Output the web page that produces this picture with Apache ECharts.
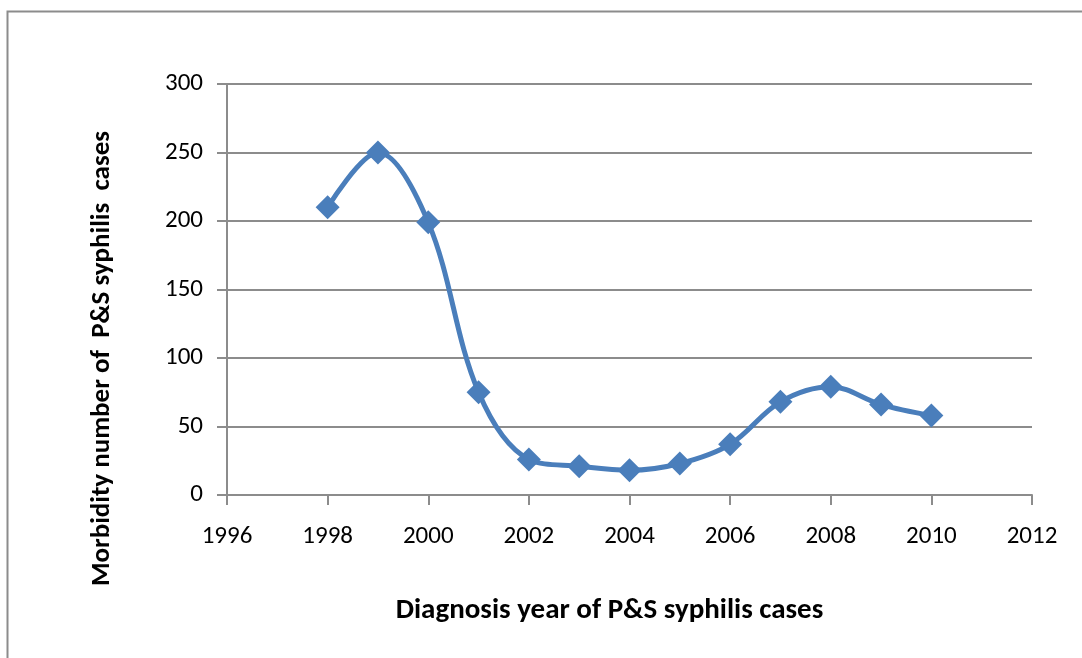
<!DOCTYPE html>
<html>
<head>
<meta charset="utf-8">
<script src="https://cdn.jsdelivr.net/npm/echarts@6/dist/echarts.min.js"></script>
<style>
  html, body { margin: 0; padding: 0; background: #fff; }
  #chart { width: 1082px; height: 658px; }
</style>
</head>
<body>
<div id="chart"></div>
<script>
// data
var years = [1998, 1999, 2000, 2001, 2002, 2003, 2004, 2005, 2006, 2007, 2008, 2009, 2010];
var cases = [210, 250, 199, 75, 26, 21, 18, 23, 37, 68, 79, 66, 58];

var points = [];
for (var i = 0; i < years.length; i++) {
    points.push([years[i], cases[i]]);
}

var chart = echarts.init(document.getElementById('chart'));
var font = 'Carlito, Lato, "Open Sans", sans-serif';

chart.setOption({
    animation: false,
    grid: {
        left: 227,
        right: 50,
        top: 84,
        bottom: 163
    },
    graphic: [
        {
            type: 'rect',
            shape: { x: 7.5, y: 11.5, width: 1200, height: 800 },
            style: { fill: null, stroke: '#8c8c8c', lineWidth: 2 },
            silent: true
        }
    ],
    xAxis: {
        type: 'value',
        min: 1996,
        max: 2012,
        interval: 2,
        name: 'Diagnosis year of P&S syphilis cases',
        nameLocation: 'middle',
        nameGap: 101,
        nameTextStyle: {
            fontFamily: font, fontSize: 29, fontWeight: 'bold', color: '#000',
            padding: [0, 40, 0, 0]
        },
        axisLine: { lineStyle: { color: '#8c8c8c', width: 2 } },
        axisTick: { show: true, inside: false, length: 10, lineStyle: { color: '#8c8c8c', width: 2 } },
        axisLabel: {
            fontFamily: font, fontSize: 25, color: '#000', margin: 29,
            formatter: function (v) { return String(v); }
        },
        splitLine: { show: false }
    },
    yAxis: {
        type: 'value',
        min: 0,
        max: 300,
        interval: 50,
        name: 'Morbidity number of  P&S syphilis  cases',
        nameLocation: 'middle',
        nameGap: 111,
        nameRotate: 90,
        nameTextStyle: {
            fontFamily: font, fontSize: 27, fontWeight: 'bold', color: '#000',
            padding: [0, 138, 0, 0]
        },
        axisLine: { show: true, lineStyle: { color: '#8c8c8c', width: 2 } },
        axisTick: { show: true, inside: false, length: 10, lineStyle: { color: '#8c8c8c', width: 2 } },
        axisLabel: { fontFamily: font, fontSize: 25, color: '#000', margin: 24 },
        splitLine: { show: true, lineStyle: { color: '#8c8c8c', width: 2 } }
    },
    series: [
        {
            type: 'line',
            data: points,
            smooth: 0.35,
            symbol: 'diamond',
            symbolSize: 24,
            lineStyle: { color: '#4a7ebb', width: 5 },
            itemStyle: { color: '#4a7ebb' }
        }
    ]
});
</script>
</body>
</html>
